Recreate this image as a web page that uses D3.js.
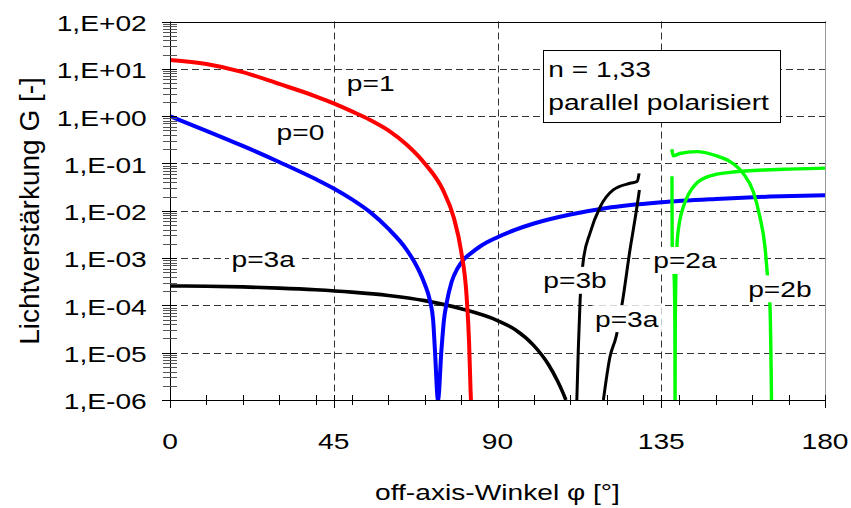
<!DOCTYPE html>
<html><head><meta charset="utf-8">
<script src="https://cdn.jsdelivr.net/npm/d3@7"></script>
<style>
html,body{margin:0;padding:0;background:#fff;}
svg{display:block;}
text{font-family:"Liberation Sans",Arial,sans-serif;fill:#000;}
</style></head>
<body>
<svg id="chart" width="851" height="508"></svg>
<script>
// ---------- data ----------
const xTickValues = [0, 45, 90, 135, 180];
const xTickLabels = ["0", "45", "90", "135", "180"];
const yTickValues = [1e-6, 1e-5, 1e-4, 1e-3, 1e-2, 1e-1, 1e0, 1e1, 1e2];
const yTickLabels = ["1,E-06", "1,E-05", "1,E-04", "1,E-03", "1,E-02", "1,E-01", "1,E+00", "1,E+01", "1,E+02"];

// p=1 (red)  (log10 G)
const phiP1 = [0, 10, 20, 30, 40, 45, 50, 55, 60, 65, 70, 75, 78, 80, 81.5, 82.2, 82.6, 82.7];
const logP1 = [1.185, 1.10, 0.93, 0.68, 0.42, 0.27, 0.10, -0.08, -0.30, -0.60, -1.0, -1.56, -2.15, -2.85, -3.8, -4.8, -5.8, -6];
// p=0 (blue)
const phiP0 = [0, 10, 20, 30, 40, 45, 50, 55, 60, 65, 68, 70, 71.4, 72.3, 72.8, 73.65, 74.6, 75.3, 76, 77.4, 79, 80.6, 83, 85.5, 90, 95, 100, 110, 120, 135, 150, 165, 180];
const logP0 = [0, -0.31, -0.63, -0.97, -1.33, -1.53, -1.76, -2.03, -2.38, -2.82, -3.2, -3.55, -3.89, -4.3, -4.94, -6, -4.94, -4.3, -3.96, -3.5, -3.22, -3.04, -2.88, -2.74, -2.56, -2.40, -2.27, -2.08, -1.94, -1.82, -1.75, -1.70, -1.67];
// p=3a first branch (black)
const phiP3a1 = [0, 10, 20, 30, 40, 50, 60, 70, 80, 90, 95, 100, 104, 106.5, 108, 108.8];
const logP3a1 = [-3.59, -3.595, -3.61, -3.635, -3.67, -3.72, -3.79, -3.90, -4.07, -4.32, -4.52, -4.85, -5.25, -5.6, -5.85, -6];
// p=3b (black)
const phiP3b = [111.8, 112.2, 112.7, 113.6, 115.4, 118.2, 121.8, 126.4, 128.4, 128.9];
const logP3b = [-6, -4.94, -3.89, -3.04, -2.48, -1.92, -1.56, -1.42, -1.38, -1.21];
// p=3a second branch (black)
const phiP3a2 = [119.1, 120.9, 122.6, 124.4, 126.4, 128.2, 129.0];
const logP3a2 = [-6, -5.09, -4.66, -3.89, -2.83, -1.98, -1.56];
// p=2a (green)
const phiP2a = [137.95, 137.97, 138.0, 138.6, 138.75, 138.8, 138.85, 139.0, 139.35, 140.0, 141.1, 142.5, 144.7, 149.3, 153.9, 163, 170, 180];
const logP2a = [-1.27, -2.0, -2.69, -3.5, -4.5, -6, -4.5, -3.5, -2.69, -2.25, -1.91, -1.65, -1.42, -1.245, -1.19, -1.14, -1.12, -1.10];
// p=2b (green)
const phiP2b = [137.9, 138.3, 140.1, 144.7, 150.2, 153.9, 157.5, 160.3, 162.1, 163.5, 164.1, 164.9, 165.3];
const logP2b = [-0.70, -0.84, -0.79, -0.75, -0.84, -0.96, -1.21, -1.60, -2.13, -2.76, -3.29, -4.06, -6];

// curve labels: text, angle, value at baseline-left
const labelTexts = ["p=1", "p=0", "p=3a", "p=3b", "p=3a", "p=2a", "p=2b"];
const labelPhi = [48.6, 29.3, 16.9, 102.6, 116.8, 132.8, 158.9];
const labelLog = [0.53, -0.505, -3.18, -3.64, -4.45, -3.22, -3.82];
const labelBg = [false, false, true, true, true, true, true];

const infoLines = ["n = 1,33", "parallel polarisiert"];
const xTitle = "off-axis-Winkel \u03c6 [\u00b0]";
const yTitle = "Lichtverst\u00e4rkung G [-]";

// ---------- layout ----------
const L = 170, R = 825, T = 21.5, B = 400;
const FS = 22.8, SX = 1.235;
const svg = d3.select("#chart");
const x = d3.scaleLinear().domain([0, 180]).range([L, R]);
const y = d3.scaleLog().domain([1e-6, 1e2]).range([B, T]);

function hText(parent, px, py, str, anchor) {
  const g = parent.append("g").attr("transform", `translate(${px},${py}) scale(${SX},1)`);
  const t = g.append("text").attr("text-anchor", anchor || "start").attr("font-size", FS).text(str);
  return {g, t};
}

// clip
svg.append("defs").append("clipPath").attr("id", "plotclip")
  .append("rect").attr("x", L).attr("y", T - 2).attr("width", R - L + 2).attr("height", B - T + 2);

// gridlines
const grid = svg.append("g");
grid.selectAll("line.h").data(yTickValues.slice(1, -1)).join("line")
  .attr("x1", L).attr("x2", R).attr("y1", d => Math.round(y(d)) + 0.5).attr("y2", d => Math.round(y(d)) + 0.5)
  .attr("stroke", "#333").attr("stroke-width", 1).attr("stroke-dasharray", "7,4");
grid.selectAll("line.v").data(xTickValues.slice(1)).join("line")
  .attr("y1", T).attr("y2", B).attr("x1", d => Math.round(x(d)) + 0.5).attr("x2", d => Math.round(x(d)) + 0.5)
  .attr("stroke", "#333").attr("stroke-width", 1).attr("stroke-dasharray", "7,4");
// right border (gray)
svg.append("line").attr("x1", R + 0.5).attr("x2", R + 0.5).attr("y1", T).attr("y2", B)
  .attr("stroke", "#999").attr("stroke-width", 1);
// top border
svg.append("line").attr("x1", L).attr("x2", R + 1).attr("y1", Math.round(T) + 0.5).attr("y2", Math.round(T) + 0.5)
  .attr("stroke", "#000").attr("stroke-width", 1);

// curves
const line = d3.line().x(d => x(d[0])).y(d => y(Math.pow(10, d[1]))).curve(d3.curveMonotoneX);
const curves = svg.append("g").attr("clip-path", "url(#plotclip)");
function drawCurve(phi, lg, color, w) {
  const pts = phi.map((p, i) => [p, lg[i]]);
  curves.append("path").attr("d", line(pts)).attr("fill", "none")
    .attr("stroke", color).attr("stroke-width", w).attr("stroke-linejoin", "round");
}
drawCurve(phiP3a1, logP3a1, "#000000", 3.6);
drawCurve(phiP0, logP0, "#0000ff", 4);
drawCurve(phiP1, logP1, "#ff0000", 4);
drawCurve(phiP3b, logP3b, "#000000", 3);
drawCurve(phiP3a2, logP3a2, "#000000", 3);
drawCurve(phiP2a, logP2a, "#00ff00", 3.4);
drawCurve(phiP2b, logP2b, "#00ff00", 3.4);

// axes lines and ticks
const ax = svg.append("g");
ax.append("line").attr("x1", L + 0.5).attr("x2", L + 0.5).attr("y1", T).attr("y2", B + 7)
  .attr("stroke", "#000").attr("stroke-width", 1);
ax.append("line").attr("x1", 162).attr("x2", R + 1).attr("y1", B + 0.5).attr("y2", B + 0.5)
  .attr("stroke", "#000").attr("stroke-width", 1);
const minorY = [];
for (let e = -6; e < 2; e++) for (let m = 2; m <= 9; m++) minorY.push(m * Math.pow(10, e));
ax.selectAll("line.ym").data(minorY).join("line")
  .attr("x1", 163).attr("x2", 177).attr("y1", d => Math.round(y(d)) + 0.5).attr("y2", d => Math.round(y(d)) + 0.5)
  .attr("stroke", "#555").attr("stroke-width", 1);
ax.selectAll("line.yM").data(yTickValues).join("line")
  .attr("x1", 162).attr("x2", 177).attr("y1", d => Math.round(y(d)) + 0.5).attr("y2", d => Math.round(y(d)) + 0.5)
  .attr("stroke", "#000").attr("stroke-width", 1);
const minorX = d3.range(10, 181, 10);
ax.selectAll("line.xm").data(minorX).join("line")
  .attr("y1", B - 5).attr("y2", B + 5).attr("x1", d => Math.round(x(d)) + 0.5).attr("x2", d => Math.round(x(d)) + 0.5)
  .attr("stroke", "#000").attr("stroke-width", 1);
ax.selectAll("line.xM").data(xTickValues).join("line")
  .attr("y1", B - 5).attr("y2", B + 8).attr("x1", d => Math.round(x(d)) + 0.5).attr("x2", d => Math.round(x(d)) + 0.5)
  .attr("stroke", "#000").attr("stroke-width", 1);

// tick labels
yTickValues.forEach((v, i) => hText(svg, 146.7, y(v) + 9.4, yTickLabels[i], "end"));
xTickValues.forEach((v, i) => hText(svg, x(v), 449, xTickLabels[i], "middle"));

// axis titles
hText(svg, (L + R) / 2, 500, xTitle, "middle");
svg.append("text").attr("transform", `translate(38.5,211) rotate(-90)`)
  .attr("text-anchor", "middle").attr("font-size", 28).text(yTitle);

// curve labels
labelTexts.forEach((s, i) => {
  const {g, t} = hText(svg, x(labelPhi[i]), y(Math.pow(10, labelLog[i])), s, "start");
  if (labelBg[i]) {
    const bb = t.node().getBBox();
    g.insert("rect", "text").attr("x", bb.x - 2).attr("y", bb.y - 1)
      .attr("width", bb.width + 4).attr("height", bb.height + 2).attr("fill", "#fff");
  }
});

// info box
svg.append("rect").attr("x", 543.5).attr("y", 50.5).attr("width", 237).attr("height", 72)
  .attr("fill", "#fff").attr("stroke", "#000").attr("stroke-width", 1);
hText(svg, 548.3, 77.3, infoLines[0], "start");
hText(svg, 548.3, 110, infoLines[1], "start");
</script>
</body></html>
